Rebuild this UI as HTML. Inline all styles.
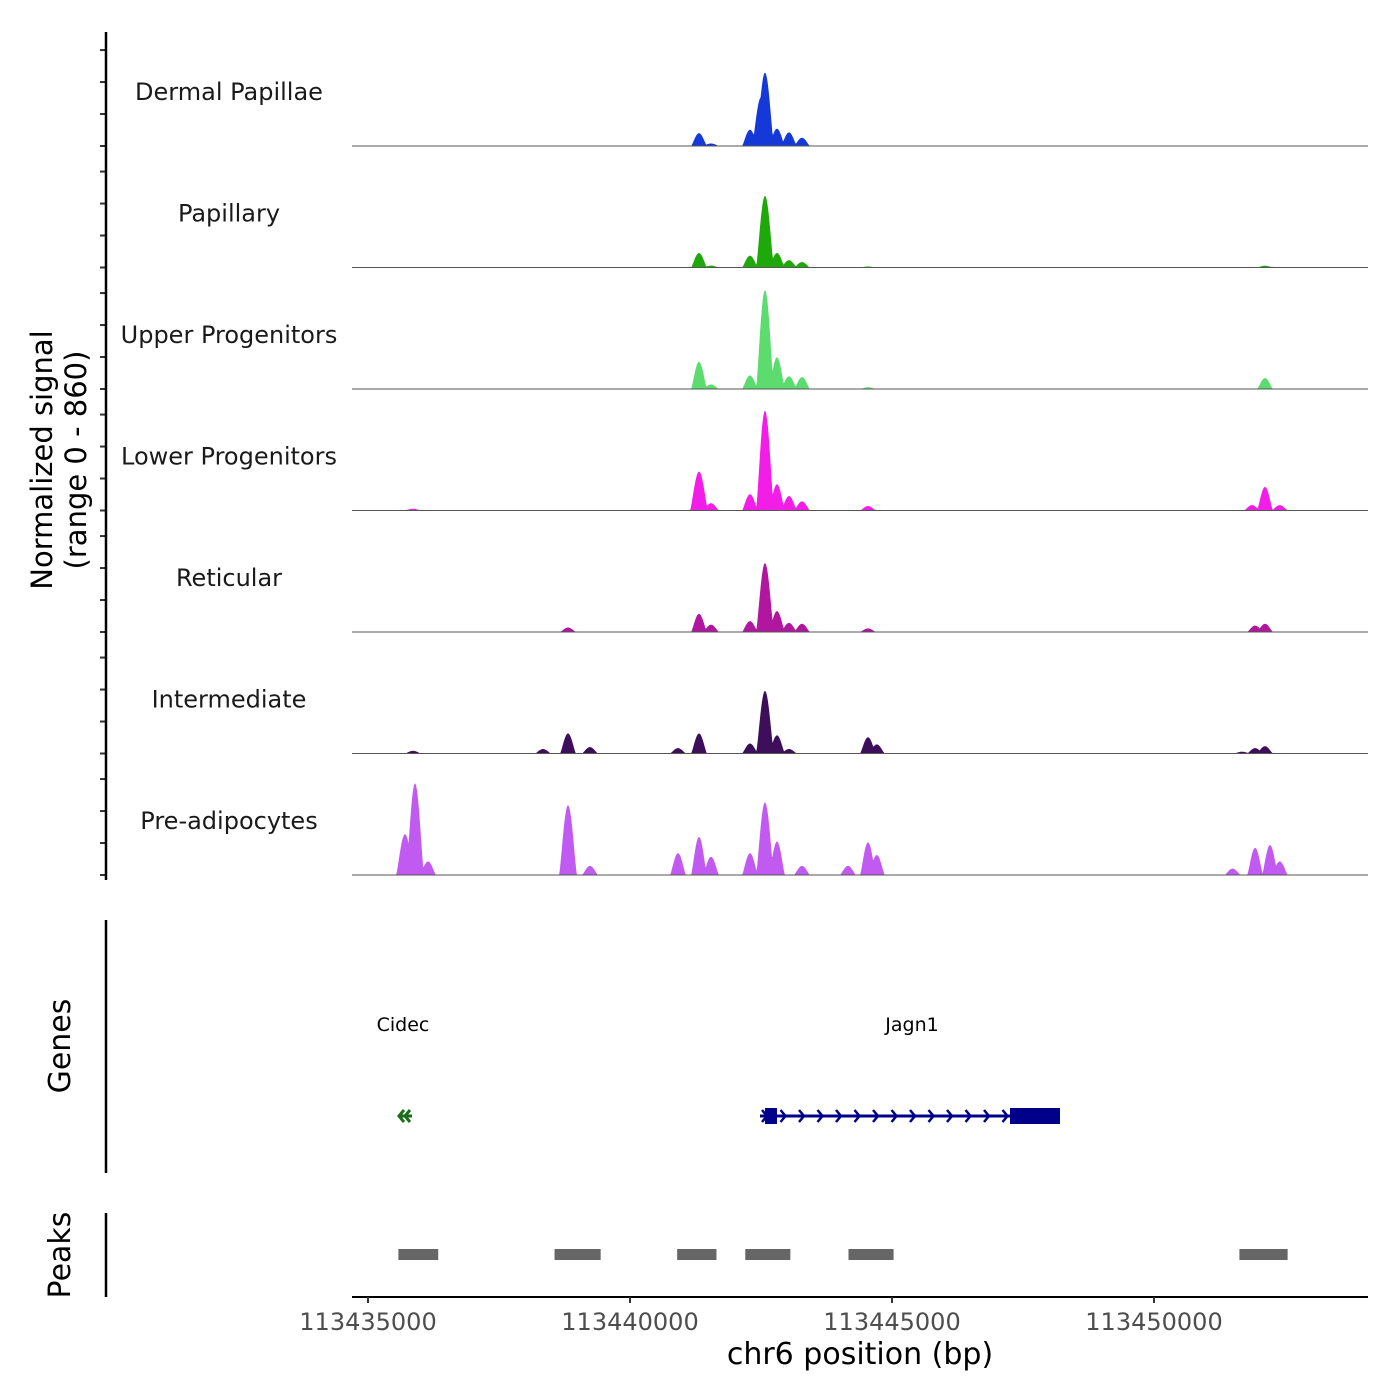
<!DOCTYPE html>
<html><head><meta charset="utf-8"><style>
body{margin:0;background:#fff}
svg{display:block;font-family:"DejaVu Sans","Liberation Sans",sans-serif}
</style></head><body>
<svg id="chart" width="1400" height="1400" viewBox="0 0 1400 1400">
<g id="tracks"></g>
<g id="axes"></g>
</svg>
<script>
const trackNames=["Dermal Papillae","Papillary","Upper Progenitors","Lower Progenitors","Reticular","Intermediate","Pre-adipocytes"];
const trackColors=["#1538d8","#1fa80a","#5cdc6e","#f21ee8","#b0169e","#3d0f5a","#c05af0"];
const peakPos=[
 [113441317,113441546,113442290,113442500,113442576,113442805,113443034,113443282],
 [113441317,113441546,113442290,113442576,113442805,113443034,113443282,113444542,113452118],
 [113441317,113441546,113442290,113442576,113442805,113443034,113443282,113444542,113452118],
 [113435859,113441317,113441546,113442290,113442576,113442805,113443034,113443282,113444542,113451870,113452118,113452400],
 [113438817,113441317,113441546,113442290,113442576,113442805,113443034,113443282,113444542,113451930,113452118],
 [113435859,113438340,113438817,113439236,113440916,113441317,113442290,113442576,113442805,113443034,113444542,113444710,113451680,113451930,113452118],
 [113435706,113435897,113436145,113438817,113439236,113440916,113441317,113441546,113442290,113442576,113442805,113443282,113444160,113444542,113444710,113451500,113451930,113452214,113452400]
];
const peakVal=[
 [100,20,127,380,573,135,106,64],
 [113,15,92,560,113,57,42,8,14],
 [212,35,106,772,248,99,92,14,85],
 [14,304,57,127,779,205,113,71,35,42,184,42],
 [35,142,57,85,538,163,71,64,28,50,64],
 [21,35,156,50,42,156,78,489,142,35,127,71,14,42,57],
 [319,715,106,545,71,170,297,142,170,567,262,71,71,255,156,50,212,234,106]
];
const xTicks=[113435000,113440000,113445000,113450000];
const yTicks=[0,250,500,750];
const peakRegions=[[113435580,113436340],[113438560,113439440],[113440900,113441650],[113442200,113443060],[113444170,113445030],[113451630,113452550]];
const ymax=860;
const NS="http://www.w3.org/2000/svg";
function xs(bp){return 368+(bp-113435000)*0.0524;}
const trackH=121.5, base0=146;
function ys(v,i){return base0+i*trackH-(v/ymax)*110;}
function mk(tag,attrs,parent){const e=document.createElementNS(NS,tag);for(const k in attrs)e.setAttribute(k,attrs[k]);parent.appendChild(e);return e;}
const tg=document.getElementById('tracks'), ag=document.getElementById('axes');
trackNames.forEach((name,i)=>{
  const base=base0+i*trackH;
  let pts=[];
  const cs=peakPos[i].map(xs);
  for(let x=352;x<=1368;x+=0.5){
    let v=0;
    cs.forEach((c,j)=>{const w=peakVal[i][j]>300?9:8;const d=Math.abs(x-c)/w;if(d<1){const s=peakVal[i][j]*Math.pow(Math.cos(d*Math.PI/2),1.3);if(s>v)v=s;}});
    pts.push(x.toFixed(1)+","+ys(v,i).toFixed(2));
  }
  const p=mk('polygon',{points:"352,"+base+" "+pts.join(" ")+" 1368,"+base,fill:trackColors[i]},tg);
  
  
  const l=mk('line',{x1:352,x2:1368,y1:base,y2:base,stroke:"#555","stroke-width":1},tg);
  
  
  const t=mk('text',{x:229,y:base-46,"text-anchor":"middle","font-size":24,fill:"#1a1a1a"},tg);
  t.textContent=name;
  
  
  yTicks.forEach(v=>{const y=ys(v,i);mk('line',{x1:100,x2:106,y1:y,y2:y,stroke:"#333","stroke-width":2},ag);});
});
// left axis
mk('line',{x1:106,x2:106,y1:32,y2:880,stroke:"#000","stroke-width":2.5},ag);
const yt=mk('text',{transform:"translate(52,460) rotate(-90)","text-anchor":"middle","font-size":29,fill:"#000"},ag);
yt.innerHTML='<tspan x="0" dy="0">Normalized signal</tspan><tspan x="0" dy="34">(range 0 - 860)</tspan>';


// genes
mk('line',{x1:106,x2:106,y1:920,y2:1173,stroke:"#000","stroke-width":2.5},ag);
const gt=mk('text',{transform:"translate(70,1046) rotate(-90)","text-anchor":"middle","font-size":30,fill:"#000"},ag);gt.textContent="Genes";


let c1=mk('text',{x:403,y:1031,"text-anchor":"middle","font-size":19,fill:"#000"},ag);c1.textContent="Cidec";


let c2=mk('text',{x:912,y:1031,"text-anchor":"middle","font-size":19,fill:"#000"},ag);c2.textContent="Jagn1";


mk('path',{d:"M404,1110 l-5,6 l5,6 M410,1110 l-5,6 l5,6 M399,1116 h13",stroke:"#1a6e1a","stroke-width":3,fill:"none"},ag);
const jg=mk('g',{stroke:"#00008b",fill:"#00008b"},ag);


mk('line',{x1:760,x2:1060,y1:1116,y2:1116,"stroke-width":3},jg);
mk('rect',{x:765,y:1108,width:12,height:16,stroke:"none"},jg);
mk('rect',{x:1010,y:1108,width:50,height:16,stroke:"none"},jg);
for(let x=762;x<1010;x+=18.5){mk('path',{d:`M${x},1110 l5,6 l-5,6`,fill:"none","stroke-width":2.5},jg);}
// peaks
mk('line',{x1:106,x2:106,y1:1213,y2:1297,stroke:"#000","stroke-width":2.5},ag);
const pt=mk('text',{transform:"translate(70,1255) rotate(-90)","text-anchor":"middle","font-size":30,fill:"#000"},ag);pt.textContent="Peaks";


peakRegions.forEach(r=>{const b=mk('rect',{x:xs(r[0]),y:1249,width:xs(r[1])-xs(r[0]),height:11,fill:"#666"},ag);

});
// x axis
mk('line',{x1:352,x2:1368,y1:1297,y2:1297,stroke:"#000","stroke-width":2},ag);
xTicks.forEach(v=>{const x=xs(v);mk('line',{x1:x,x2:x,y1:1297,y2:1303,stroke:"#333","stroke-width":2},ag);
const t=mk('text',{x:x,y:1330,"text-anchor":"middle","font-size":24,fill:"#4d4d4d"},ag);t.textContent=v;

});
const xt=mk('text',{x:860,y:1364,"text-anchor":"middle","font-size":30,fill:"#000"},ag);xt.textContent="chr6 position (bp)";


</script>
</body></html>
